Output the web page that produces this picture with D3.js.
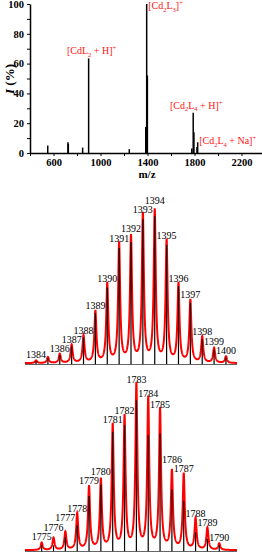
<!DOCTYPE html>
<html>
<head>
<meta charset="utf-8">
<script src="https://cdn.jsdelivr.net/npm/d3@7"></script>
<style>
body { margin: 0; background: #fff; }
svg { display: block; }
text { font-family: "Liberation Serif", "Times New Roman", serif; }
</style>
</head>
<body>
<svg id="chart" width="262" height="555"></svg>
<script>
// overview spectrum (m/z, relative intensity %)
const overviewMz = [551, 723, 726, 848, 899, 1245, 1385, 1393, 1399, 1777, 1789, 1795, 1821, 1827];
const overviewI  = [5, 7.2, 6, 3.6, 63.5, 2.6, 17.5, 100, 52, 3, 27, 14, 4, 7.2];
const xTicks = [400, 600, 800, 1000, 1200, 1400, 1600, 1800, 2000, 2200, 2400];
const xTickLabels = [600, 1000, 1400, 1800, 2200];
const yTicks = [0, 10, 20, 30, 40, 50, 60, 70, 80, 90, 100];
const yTickLabels = [0, 20, 40, 60, 80, 100];

// ion labels: text parts, peak index they belong to
const ionLabels = [
    {parts: [['[CdL', ''], ['2', 'sub'], [' + H]', ''], ['+', 'sup']], peak: 4, anchor: 'middle'},
    {parts: [['[Cd', ''], ['2', 'sub'], ['L', ''], ['3', 'sub'], [']', ''], ['+', 'sup']], peak: 7, anchor: 'start'},
    {parts: [['[Cd', ''], ['2', 'sub'], ['L', ''], ['4', 'sub'], [' + H]', ''], ['+', 'sup']], peak: 10, anchor: 'middle'},
    {parts: [['[Cd', ''], ['2', 'sub'], ['L', ''], ['4', 'sub'], [' + Na]', ''], ['+', 'sup']], peak: 13, anchor: 'start'}
];

// isotope pattern [Cd2L3]+
const iso1Mz    = [1384, 1385, 1386, 1387, 1388, 1389, 1390, 1391, 1392, 1393, 1394, 1395, 1396, 1397, 1398, 1399, 1400];
const iso1Exp   = [1.8, 4, 6, 12, 18, 34, 52, 78.6, 82.9, 97.4, 100, 80.2, 51.9, 41.3, 17.1, 9.9, 4.4];
const iso1Calc  = [1.5, 3.5, 5.5, 11, 17, 33, 50, 76, 80, 95, 97, 78, 51, 40, 16, 9, 4];
const iso1Shown = [1384, 1386, 1387, 1388, 1389, 1390, 1391, 1392, 1393, 1394, 1395, 1396, 1397, 1398, 1399, 1400];

// isotope pattern [Cd2L4 + H]+
const iso2Mz    = [1775, 1776, 1777, 1778, 1779, 1780, 1781, 1782, 1783, 1784, 1785, 1786, 1787, 1788, 1789, 1790];
const iso2Exp   = [4.5, 7.5, 11, 22, 38.5, 42.5, 75.6, 80.5, 100, 91.6, 85, 47.6, 46, 19, 13.5, 4];
const iso2Calc  = [3, 3, 8, 15, 33, 40, 72, 76, 91, 70, 71, 37, 30, 11, 7, 3];
const iso2Shown = iso2Mz;

const svg = d3.select('#chart');

// ---------- overview ----------
const x0 = d3.scaleLinear().domain([400, 2400]).range([30, 265]);
const y0 = d3.scaleLinear().domain([0, 100]).range([153, 4]);

const xAxis = svg.append('g')
    .attr('transform', `translate(0, ${y0(0)})`)
    .call(d3.axisBottom(x0).tickValues(xTicks).tickSize(3).tickSizeOuter(0)
        .tickFormat(d => xTickLabels.includes(d) ? d : ''));
const yAxis = svg.append('g')
    .attr('transform', `translate(${x0(400)}, 0)`)
    .call(d3.axisLeft(y0).tickValues(yTicks).tickSize(3).tickSizeOuter(0)
        .tickFormat(d => yTickLabels.includes(d) ? d : ''));

[xAxis, yAxis].forEach(g => {
    g.select('.domain').attr('stroke-width', 1.5);
    g.selectAll('.tick line').attr('stroke-width', 1);
    g.selectAll('text')
        .attr('font-family', '"Liberation Serif", serif')
        .attr('font-weight', 'bold')
        .attr('font-size', '10.5px')
        .attr('fill', '#000');
});

svg.append('text')
    .attr('transform', `translate(13.5, 79) rotate(-90)`)
    .attr('text-anchor', 'middle')
    .attr('font-weight', 'bold')
    .attr('font-size', '13px')
    .html('<tspan font-style="italic">I</tspan> (%)');

svg.append('text')
    .attr('x', 147).attr('y', 178)
    .attr('text-anchor', 'middle')
    .attr('font-weight', 'bold')
    .attr('font-size', '11px')
    .text('m/z');

svg.append('g').selectAll('line')
    .data(overviewMz)
    .join('line')
    .attr('x1', d => x0(d)).attr('x2', d => x0(d))
    .attr('y1', y0(0))
    .attr('y2', (d, i) => y0(overviewI[i]))
    .attr('stroke', '#000')
    .attr('stroke-width', 1.5);

ionLabels.forEach(lab => {
    const px = x0(overviewMz[lab.peak]);
    const py = y0(overviewI[lab.peak]);
    let tx, ty;
    if (lab.anchor === 'middle') { tx = px + 3; ty = py - 4; }
    else { tx = px + 1.5; ty = Math.max(py + 5, 9); }
    if (lab.peak === 13) ty = py + 2;
    const t = svg.append('text')
        .attr('x', tx).attr('y', ty)
        .attr('text-anchor', lab.anchor)
        .attr('font-size', '10px')
        .attr('fill', '#f11');
    lab.parts.forEach(([s, kind], k) => {
        const prev = k > 0 ? lab.parts[k - 1][1] : '';
        let dy = 0;
        if (kind === 'sub') dy = 2.5;
        if (kind === 'sup') dy = -4;
        if (prev === 'sub') dy -= 2.5;
        if (prev === 'sup') dy += 4;
        t.append('tspan')
            .attr('dy', dy)
            .attr('font-size', kind ? '6.5px' : '10px')
            .text(s);
    });
});

// ---------- isotope panels ----------
function isoPanel(mz, expI, calcI, shown, domain, yRange) {
    const x = d3.scaleLinear().domain(domain).range([25, 237]);
    const y = d3.scaleLinear().domain([0, 100]).range(yRange);
    const g = svg.append('g');

    g.append('line')
        .attr('x1', 25).attr('x2', 237)
        .attr('y1', y(0) + 1.2).attr('y2', y(0) + 1.2)
        .attr('stroke', '#666').attr('stroke-width', 1.2);

    // measured profile: each measured peak drawn with a lorentzian shape
    const gam = 0.1;
    const prof = d3.range(domain[0], domain[1], 0.01).map(m => {
        let s = 0;
        mz.forEach((p, i) => { s += expI[i] * gam * gam / ((m - p) * (m - p) + gam * gam); });
        return [m, s];
    });
    g.append('path')
        .datum(prof)
        .attr('d', d3.line().x(d => x(d[0])).y(d => y(d[1])))
        .attr('fill', 'none')
        .attr('stroke', '#f00')
        .attr('stroke-width', 2);

    g.selectAll('line.stick')
        .data(mz)
        .join('line')
        .attr('class', 'stick')
        .attr('x1', d => x(d)).attr('x2', d => x(d))
        .attr('y1', y(0) + 1)
        .attr('y2', (d, i) => y(calcI[i]))
        .attr('stroke', '#000')
        .attr('stroke-width', 1.2);

    // labels over the peaks, lifted where neighbours collide
    const labs = shown.map(m => {
        const i = mz.indexOf(m);
        return {m: m, x: x(m), y: y(expI[i]) - 2.5};
    });
    for (let pass = 0; pass < 3; pass++) {
        for (let k = 1; k < labs.length; k++) {
            const a = labs[k - 1], b = labs[k];
            if (b.m - a.m !== 1) continue;
            if (Math.abs(a.y - b.y) < 9) {
                if (a.y < b.y) a.y = b.y - 9.5;
                else b.y = a.y - 9.5;
            }
        }
    }
    g.selectAll('text')
        .data(labs)
        .join('text')
        .attr('x', d => d.x)
        .attr('y', d => d.y)
        .attr('text-anchor', 'middle')
        .attr('font-size', '10px')
        .attr('fill', '#000')
        .text(d => d.m);
}

isoPanel(iso1Mz, iso1Exp, iso1Calc, iso1Shown, [1383.07, 1400.93], [363.3, 211.7]);
isoPanel(iso2Mz, iso2Exp, iso2Calc, iso2Shown, [1773.59, 1791.5], [550.3, 385.7]);
</script>
</body>
</html>
